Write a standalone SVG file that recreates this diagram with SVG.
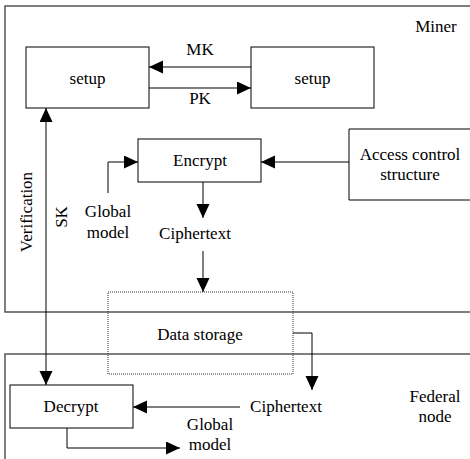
<svg xmlns="http://www.w3.org/2000/svg" width="470" height="459" viewBox="0 0 470 459">
<style>
text{font-family:"Liberation Serif","Times New Roman",serif;font-size:17px;fill:#000;text-anchor:middle}
.box{fill:none;stroke:#000;stroke-width:1}
.region{fill:none;stroke:#555;stroke-width:1.5}
.ln{fill:none;stroke:#000;stroke-width:1}
.arr{marker-end:url(#ah)}
</style>
<defs>
<marker id="ah" markerUnits="userSpaceOnUse" markerWidth="15" markerHeight="14" refX="14" refY="6.5" orient="auto-start-reverse">
<path d="M0,0 L14,6.5 L0,13 z" fill="#000"/>
</marker>
</defs>
<g id="miner">
<path class="region" d="M476,6 H5 V312 H476"/>
<text x="436" y="32">Miner</text>
</g>
<g id="federal">
<path class="region" d="M476,354 H5 V465"/>
<text x="435" y="402">Federal</text>
<text x="435" y="422">node</text>
</g>
<g id="setup1">
<rect class="box" x="26" y="47" width="123" height="61"/>
<text x="87.5" y="84">setup</text>
</g>
<g id="setup2">
<rect class="box" x="251" y="47" width="123" height="61"/>
<text x="312.5" y="84">setup</text>
</g>
<g id="encrypt">
<rect class="box" x="138" y="139" width="123" height="43"/>
<text x="200" y="166">Encrypt</text>
</g>
<g id="access">
<path class="box" d="M476,129 H349 V200 H476"/>
<text x="410" y="160">Access control</text>
<text x="410" y="180">structure</text>
</g>
<g id="storage">
<rect x="108" y="292" width="185" height="82" fill="none" stroke="#333" stroke-width="1" stroke-dasharray="1,1"/>
<text x="200" y="340">Data storage</text>
</g>
<g id="decrypt">
<rect class="box" x="10" y="385" width="123" height="43"/>
<text x="71" y="412">Decrypt</text>
</g>
<g id="connectors">
<path class="ln arr" d="M251,67 H149"/>
<text x="200" y="55">MK</text>
<path class="ln arr" d="M149,88 H251"/>
<text x="200" y="104">PK</text>
<path class="ln arr" d="M349,162 H261"/>
<path class="ln arr" d="M108,193 V162 H138"/>
<text x="108" y="217">Global</text>
<text x="108" y="238">model</text>
<path class="ln arr" d="M203,182 V218"/>
<text x="195" y="239">Ciphertext</text>
<path class="ln arr" d="M203,251 V292"/>
<path class="ln" d="M46,108 V385" marker-start="url(#ah)" marker-end="url(#ah)"/>
<text transform="translate(32,212) rotate(-90)">Verification</text>
<text transform="translate(67,217) rotate(-90)">SK</text>
<path class="ln arr" d="M293,333 H312 V390"/>
<text x="286" y="412">Ciphertext</text>
<path class="ln arr" d="M240,407 H133"/>
<path class="ln arr" d="M67,428 V448 H180"/>
<text x="210" y="430">Global</text>
<text x="210" y="450">model</text>
</g>
</svg>
